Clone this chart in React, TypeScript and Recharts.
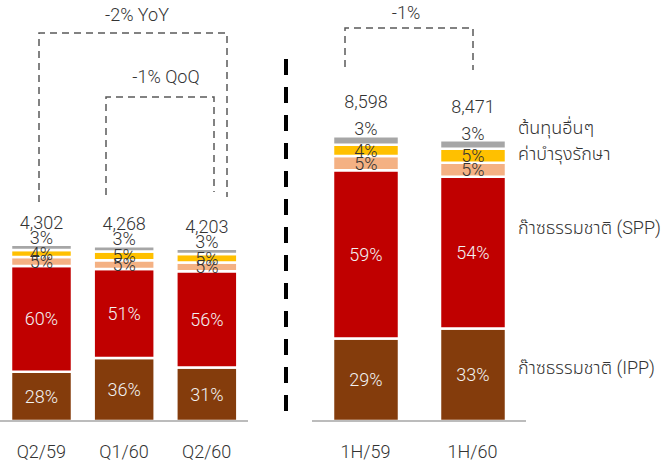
import React from "react";
import { BarChart, Bar, XAxis, YAxis, LabelList } from "recharts";

// quarterly (left) and half-year (right) cost structure
const quarters = ["Q2/59", "Q1/60", "Q2/60"];
const quarterTotals = [4302, 4268, 4203];
const quarterIpp = [28, 36, 31];
const quarterSpp = [60, 51, 56];
const quarterSalmon = [5, 5, 5];
const quarterMaint = [4, 5, 5];
const quarterOther = [3, 3, 3];

const halves = ["1H/59", "1H/60"];
const halfTotals = [8598, 8471];
const halfIpp = [29, 33];
const halfSpp = [59, 54];
const halfSalmon = [5, 5];
const halfMaint = [4, 5];
const halfOther = [3, 3];

const legendLabels = [
  "ต้นทุนอื่นๆ",
  "ค่าบำรุงรักษา",
  "ก๊าซธรรมชาติ (SPP)",
  "ก๊าซธรรมชาติ (IPP)",
];

const COLORS = {
  ipp: "#843C0C",
  spp: "#C00000",
  salmon: "#F4B183",
  maint: "#FFC000",
  other: "#A6A6A6",
};

const FONT = "Roboto, 'Liberation Sans', 'Noto Sans Thai', sans-serif";
const WEIGHT = 300;
const SIZE = 18;
const TEXT = "#333333";

function buildRows(
  names: string[],
  totals: number[],
  ipp: number[],
  spp: number[],
  salmon: number[],
  maint: number[],
  other: number[]
) {
  return names.map((name, i) => ({
    name,
    total: totals[i],
    ipp: (totals[i] * ipp[i]) / 100,
    spp: (totals[i] * spp[i]) / 100,
    salmon: (totals[i] * salmon[i]) / 100,
    maint: (totals[i] * maint[i]) / 100,
    other: (totals[i] * other[i]) / 100,
    ippPct: ipp[i],
    sppPct: spp[i],
    salmonPct: salmon[i],
    maintPct: maint[i],
    otherPct: other[i],
  }));
}

const quarterRows = buildRows(quarters, quarterTotals, quarterIpp, quarterSpp, quarterSalmon, quarterMaint, quarterOther);
const halfRows = buildRows(halves, halfTotals, halfIpp, halfSpp, halfSalmon, halfMaint, halfOther);

const pct = (v: any) => `${v}%`;

function makeTopLabel(rows: any[], totalOffset: number) {
  return (props: any) => {
    const { x, y, width, index } = props;
    const row = rows[index];
    if (!row) return null;
    const cx = Number(x) + Number(width) / 2;
    const t = { fill: TEXT, fontSize: SIZE, fontFamily: FONT, fontWeight: WEIGHT };
    return (
      <g>
        <text x={cx} y={Number(y) - 7} dy="0.35em" textAnchor="middle" {...t}>
          {row.otherPct}%
        </text>
        <text x={cx} y={Number(y) - totalOffset} dy="0.35em" textAnchor="middle" {...t}>
          {row.total.toLocaleString("en-US")}
        </text>
      </g>
    );
  };
}

function CostChart({
  rows,
  width,
  barSize,
  domainMax,
  totalOffset,
}: {
  rows: any[];
  width: number;
  barSize: number;
  domainMax: number;
  totalOffset: number;
}) {
  const inner = { fill: "#F2F2F2", fontSize: SIZE, fontFamily: FONT, fontWeight: WEIGHT };
  const small = { fill: TEXT, fontSize: SIZE, fontFamily: FONT, fontWeight: WEIGHT };
  return (
    <BarChart width={width} height={469} data={rows} margin={{ top: 40, right: 0, bottom: 0, left: 0 }} barSize={barSize}>
      <XAxis
        dataKey="name"
        height={48}
        axisLine={{ stroke: "#A6A6A6", strokeWidth: 1.5 }}
        tickLine={false}
        tickMargin={18}
        tick={{ fill: TEXT, fontSize: SIZE, fontFamily: FONT, fontWeight: WEIGHT }}
      />
      <YAxis hide domain={[0, domainMax]} />
      <Bar dataKey="ipp" stackId="a" fill={COLORS.ipp} stroke="#fff" strokeWidth={2.5} isAnimationActive={false}>
        <LabelList dataKey="ippPct" position="center" formatter={pct} style={inner} />
      </Bar>
      <Bar dataKey="spp" stackId="a" fill={COLORS.spp} stroke="#fff" strokeWidth={2.5} isAnimationActive={false}>
        <LabelList dataKey="sppPct" position="center" formatter={pct} style={inner} />
      </Bar>
      <Bar dataKey="salmon" stackId="a" fill={COLORS.salmon} stroke="#fff" strokeWidth={2.5} isAnimationActive={false}>
        <LabelList dataKey="salmonPct" position="center" formatter={pct} style={small} />
      </Bar>
      <Bar dataKey="maint" stackId="a" fill={COLORS.maint} stroke="#fff" strokeWidth={2.5} isAnimationActive={false}>
        <LabelList dataKey="maintPct" position="center" formatter={pct} style={small} />
      </Bar>
      <Bar dataKey="other" stackId="a" fill={COLORS.other} stroke="#fff" strokeWidth={2.5} isAnimationActive={false}>
        <LabelList dataKey="otherPct" content={makeTopLabel(rows, totalOffset)} />
      </Bar>
    </BarChart>
  );
}

function Annotations() {
  const dash = { fill: "none", stroke: "#595959", strokeWidth: 1.5, strokeDasharray: "7 5" };
  const t = { fill: TEXT, fontSize: SIZE, fontFamily: FONT, fontWeight: WEIGHT };
  return (
    <svg width={664} height={469} style={{ position: "absolute", left: 0, top: 0, pointerEvents: "none" }}>
      <line x1={286} y1={59} x2={286} y2={422} stroke="#000" strokeWidth={4} strokeDasharray="16 12" />
      <polyline points="39,202 39,33 227,33 227,197" {...dash} />
      <text x={137} y={15} dy="0.35em" textAnchor="middle" {...t}>-2% YoY</text>
      <polyline points="106,195 106,97 214,97 214,192" {...dash} />
      <text x={166} y={77} dy="0.35em" textAnchor="middle" {...t}>-1% QoQ</text>
      <polyline points="345,67 345,28 473,28 473,70" {...dash} />
      <text x={406} y={13} dy="0.35em" textAnchor="middle" {...t}>-1%</text>
      {[128, 154, 228, 368].map((y, i) => (
        <text key={i} x={518} y={y} dy="0.35em" {...t}>{legendLabels[i]}</text>
      ))}
    </svg>
  );
}

export default function App() {
  return (
    <div style={{ position: "absolute", left: 0, top: 0, width: 664, height: 469, background: "#fff" }}>
      <div style={{ position: "absolute", left: 0, top: 0 }}>
        <CostChart rows={quarterRows} width={248} barSize={61} domainMax={9300} totalOffset={22} />
      </div>
      <div style={{ position: "absolute", left: 312, top: 0 }}>
        <CostChart rows={halfRows} width={214} barSize={66} domainMax={11500} totalOffset={34} />
      </div>
      <Annotations />
    </div>
  );
}
